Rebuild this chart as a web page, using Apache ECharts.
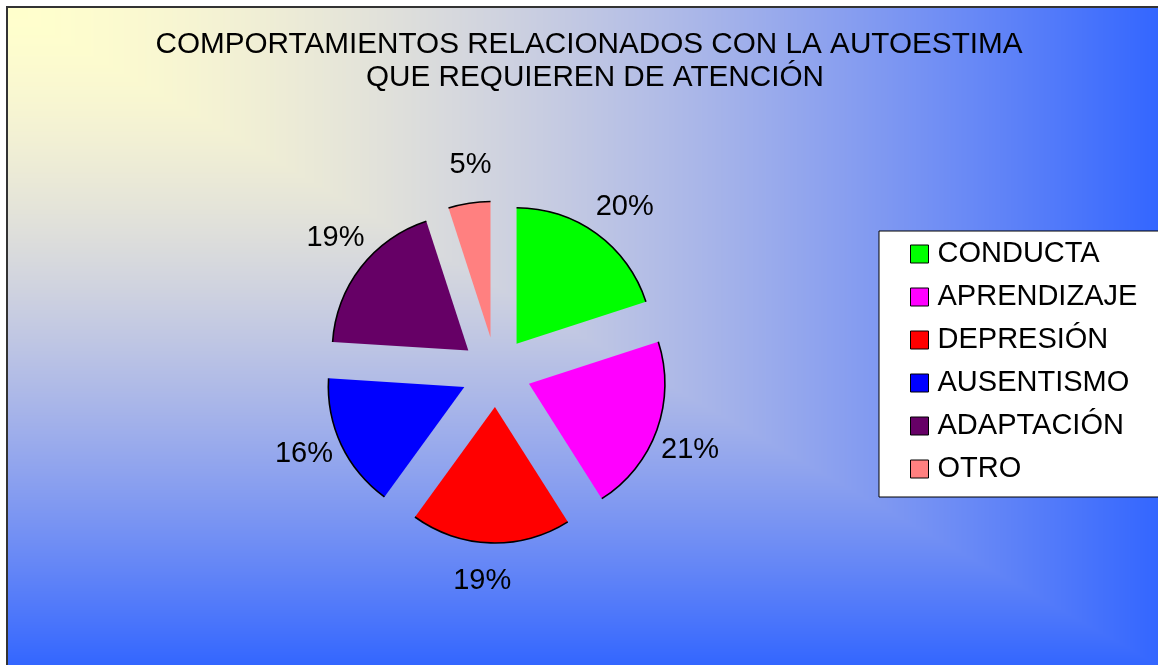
<!DOCTYPE html>
<html>
<head>
<meta charset="utf-8">
<script src="https://cdn.jsdelivr.net/npm/echarts@6/dist/echarts.min.js"></script>
<style>
  html, body { margin: 0; padding: 0; background: #fff; }
  #chart { width: 1158px; height: 665px; }
</style>
</head>
<body>
<div id="chart"></div>
<script>
const categories = ['CONDUCTA', 'APRENDIZAJE', 'DEPRESIÓN', 'AUSENTISMO', 'ADAPTACIÓN', 'OTRO']
const percents = [20, 21, 19, 16, 19, 5]
const sliceColors = ['#00ff00', '#ff00ff', '#ff0000', '#0000ff', '#660066', '#ff8080']
const titleLines = ['COMPORTAMIENTOS RELACIONADOS CON LA AUTOESTIMA', 'QUE REQUIEREN DE ATENCIÓN']

const FONT = "'Liberation Sans', Arial, sans-serif"
const CENTER = [496, 372]
const R = 136
const EXPLODE = 35

// excel style "from corner" fill: yellow top-left -> blue
function cornerFill(w, h) {
  const cv = document.createElement('canvas')
  cv.width = w
  cv.height = h
  const ctx = cv.getContext('2d')
  const img = ctx.createImageData(w, h)
  const a = [255, 255, 204]
  const b = [51, 102, 255]
  const pw = [1.7, 1.45, 1.15] // channels don't blend evenly in the original
  for (let y = 0; y < h; y++) {
    for (let x = 0; x < w; x++) {
      const t = Math.min(1, Math.max(x / w, y / h))
      const i = (y * w + x) * 4
      for (let c = 0; c < 3; c++) {
        img.data[i + c] = a[c] + (b[c] - a[c]) * Math.pow(t, pw[c])
      }
      img.data[i + 3] = 255
    }
  }
  ctx.putImageData(img, 0, 0)
  return cv
}

const pieData = () => categories.map((name, i) => ({ name, value: percents[i], selected: true }))

const titleText = (text, x, y) => ({
  type: 'text',
  x,
  y,
  silent: true,
  style: { text, textAlign: 'center', textVerticalAlign: 'middle', fontSize: 29.7, fontFamily: FONT, fill: '#000' }
})

const chart = echarts.init(document.getElementById('chart'))

const option = {
  animation: false,
  color: sliceColors,
  textStyle: { fontFamily: FONT },
  graphic: {
    elements: [
      {
        type: 'image',
        z: -10,
        silent: true,
        style: { image: cornerFill(1151, 658), x: 7, y: 7, width: 1151, height: 658 }
      },
      {
        type: 'rect',
        z: -9,
        silent: true,
        shape: { x: 7, y: 7, width: 1160, height: 670 },
        style: { fill: 'none', stroke: '#333', lineWidth: 2 }
      },
      titleText(titleLines[0], 589, 45),
      titleText(titleLines[1], 595, 78)
    ]
  },
  legend: {
    orient: 'vertical',
    left: 879,
    top: 231,
    data: categories,
    selectedMode: false,
    itemWidth: 18,
    itemHeight: 18,
    itemGap: 13,
    icon: 'rect',
    padding: [8, 40, 13, 31],
    backgroundColor: '#fff',
    borderColor: '#000',
    borderWidth: 1,
    borderRadius: 0,
    itemStyle: { borderColor: '#000', borderWidth: 1 },
    textStyle: { fontSize: 29, lineHeight: 30, color: '#000', fontFamily: FONT, padding: [0, 0, 0, 4] }
  },
  series: [
    {
      name: 'main',
      type: 'pie',
      center: CENTER,
      radius: R,
      startAngle: 90,
      selectedMode: 'multiple',
      selectedOffset: EXPLODE,
      silent: true,
      label: { show: false },
      labelLine: { show: false },
      itemStyle: { borderWidth: 0 },
      emphasis: { disabled: true },
      data: pieData()
    },
    {
      // thin black outer arc
      name: 'arc',
      type: 'pie',
      center: CENTER,
      radius: [R - 0.8, R + 0.8],
      startAngle: 90,
      selectedMode: 'multiple',
      selectedOffset: EXPLODE,
      silent: true,
      label: { show: false },
      labelLine: { show: false },
      itemStyle: { color: '#000', borderWidth: 0 },
      emphasis: { disabled: true },
      data: pieData()
    },
    {
      // invisible carrier for the percent labels, turned a little like excel places them
      name: 'labels',
      type: 'pie',
      center: CENTER,
      radius: [0, 342],
      startAngle: 88,
      selectedMode: 'multiple',
      selectedOffset: EXPLODE,
      silent: true,
      labelLine: { show: false },
      itemStyle: { color: 'rgba(0,0,0,0)', borderWidth: 0 },
      emphasis: { disabled: true },
      label: {
        show: true,
        position: 'inside',
        rotate: 0,
        formatter: '{c}%',
        fontSize: 29,
        color: '#000',
        fontFamily: FONT
      },
      data: pieData()
    }
  ]
}

chart.setOption(option)
</script>
</body>
</html>
